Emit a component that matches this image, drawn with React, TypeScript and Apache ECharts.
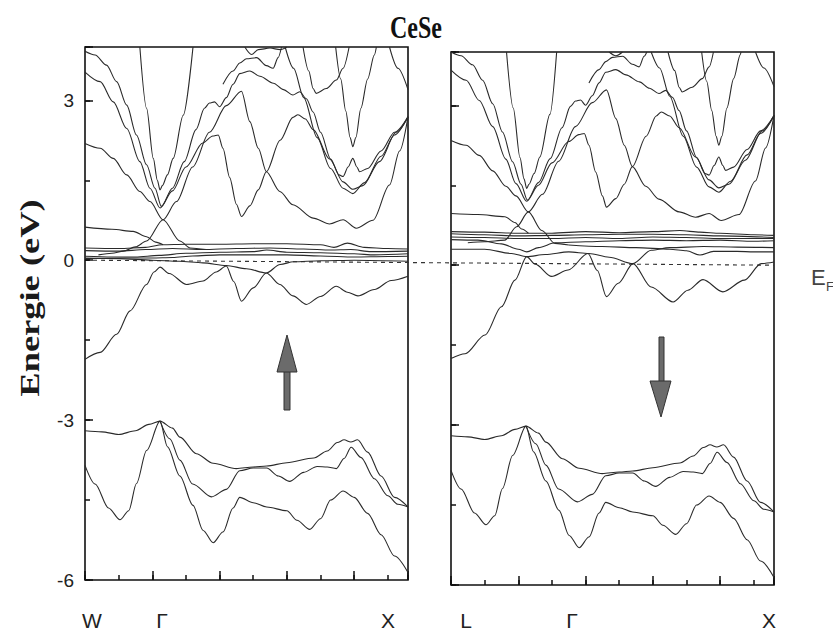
import React, { useEffect, useRef } from "react";
import * as echarts from "echarts";

// ---------- axis / label data ----------
const xMin = 0;
const xMax = 9.6;
const yMin = -6;
const yMax = 4;
const yLabelTicks = [-6, -3, 0, 3];
const leftPointLabels = ["W", "Γ", "X"];
const rightPointLabels = ["L", "Γ", "X"];
const titleText = "CeSe";
const yTitle = "Energie (eV)";

// ---------- valence bands (same look in both panels) ----------
const valA: number[][] = [[0,-3.2],[0.5,-3.22],[1.0,-3.27],[1.5,-3.2],[1.9,-3.08],[2.23,-3.02],[2.6,-3.15],[2.82,-3.32],[3.31,-3.63],[3.81,-3.81],[4.5,-3.91],[5.0,-3.88],[5.4,-3.86],[6.0,-3.8],[6.8,-3.71],[7.2,-3.58],[7.5,-3.42],[7.7,-3.37],[7.9,-3.41],[8.1,-3.37],[8.4,-3.6],[8.8,-4.05],[9.2,-4.45],[9.6,-4.63]];
const valB: number[][] = [[2.23,-3.02],[2.52,-3.35],[2.82,-3.75],[3.2,-4.2],[3.76,-4.44],[4.2,-4.3],[4.6,-3.95],[5.0,-3.9],[5.4,-3.9],[5.75,-4.05],[6.08,-4.15],[6.5,-3.98],[6.9,-3.87],[7.2,-3.88],[7.47,-3.91],[7.7,-3.72],[7.91,-3.51],[8.2,-3.7],[8.6,-4.1],[9.0,-4.42],[9.3,-4.58],[9.6,-4.63]];
const valC: number[][] = [[0,-3.85],[0.3,-4.2],[0.7,-4.65],[1.04,-4.87],[1.3,-4.7],[1.53,-4.19],[1.83,-3.57],[2.23,-3.02],[2.45,-3.5],[2.82,-4.05],[3.21,-4.6],[3.51,-5.07],[3.81,-5.3],[4.1,-5.1],[4.4,-4.65],[4.6,-4.45],[5.0,-4.55],[5.4,-4.63],[6.0,-4.7],[6.3,-4.88],[6.68,-5.05],[7.0,-4.85],[7.3,-4.5],[7.67,-4.33],[8.0,-4.45],[8.4,-4.75],[8.8,-5.15],[9.2,-5.55],[9.6,-5.86]];

// ---------- left panel (spin up) ----------
const dBandL: number[][] = [[0,-1.86],[0.45,-1.73],[0.94,-1.39],[1.34,-0.95],[1.83,-0.455],[2.05,-0.22],[2.23,-0.13],[2.5,-0.25],[3.02,-0.455],[3.51,-0.39],[3.9,-0.22],[4.2,-0.11],[4.42,-0.4],[4.65,-0.77],[5.0,-0.52],[5.39,-0.24],[5.8,-0.08],[6.2,-0.03],[7.0,-0.01],[8.0,0.0],[9.6,-0.02]];
const dBand2L: number[][] = [[0,0.04],[1.0,0.03],[2.0,0.0],[2.8,-0.02],[3.5,-0.05],[4.2,-0.1],[4.8,-0.16],[5.39,-0.24],[5.79,-0.455],[6.18,-0.67],[6.58,-0.83],[7.0,-0.68],[7.47,-0.49],[7.8,-0.6],[8.11,-0.67],[8.6,-0.55],[9.1,-0.38],[9.6,-0.3]];
const f1L: number[][] = [[0,0.23],[1.0,0.22],[1.8,0.24],[2.3,0.29],[3.0,0.3],[4.0,0.3],[5.0,0.31],[6.0,0.31],[7.0,0.29],[7.4,0.24],[7.8,0.32],[8.3,0.24],[9.0,0.22],[9.6,0.21]];
const f2L: number[][] = [[0,0.18],[1.0,0.17],[1.8,0.2],[2.6,0.22],[3.5,0.2],[4.5,0.22],[5.5,0.23],[6.5,0.21],[7.3,0.19],[7.9,0.2],[8.5,0.16],[9.6,0.17]];
const f3L: number[][] = [[0,0.075],[0.8,0.06],[1.5,0.06],[2.2,0.09],[3.0,0.13],[4.0,0.15],[5.0,0.16],[5.4,0.19],[6.0,0.15],[7.0,0.14],[8.0,0.12],[8.6,0.1],[9.6,0.12]];
const f4L: number[][] = [[0,0.03],[1.2,0.04],[2.0,0.04],[2.6,0.05],[3.2,0.08],[4.0,0.1],[5.0,0.1],[6.0,0.1],[7.0,0.08],[8.0,0.06],[9.0,0.07],[9.6,0.075]];
const w1L: number[][] = [[0,0.62],[0.8,0.58],[1.43,0.54],[1.83,0.44],[2.1,0.34],[2.32,0.29]];
const vSteepL: number[][] = [[1.63,4.0],[1.83,2.85],[2.03,1.91],[2.15,1.5],[2.23,1.32],[2.3,1.4],[2.45,1.6],[2.62,1.91],[2.92,2.72],[3.21,4.0]];
const c1L: number[][] = [[0,3.92],[0.3,3.85],[0.64,3.66],[0.94,3.35],[1.24,2.91],[1.53,2.35],[1.83,1.79],[2.08,1.35],[2.27,1.01],[2.6,1.35],[2.95,1.85],[3.3,2.45],[3.55,2.85],[3.7,2.95],[3.85,2.97],[4.0,2.88],[4.2,3.05],[4.4,3.3],[4.6,3.5],[4.9,3.55],[5.2,3.45],[5.6,3.32],[5.9,3.2],[6.18,3.1],[6.38,3.16],[6.58,3.03],[6.78,2.78],[7.0,2.4],[7.3,1.9],[7.55,1.6],[7.67,1.57],[7.82,1.75],[7.96,1.91],[8.08,1.75],[8.16,1.66],[8.4,1.72],[8.8,2.05],[9.2,2.4],[9.6,2.69]];
const c2L: number[][] = [[0,3.53],[0.45,3.35],[0.84,2.97],[1.24,2.47],[1.63,1.85],[1.93,1.35],[2.23,0.98],[2.6,1.3],[3.0,1.75],[3.5,2.2],[3.8,2.33],[3.96,2.35],[4.1,2.1],[4.3,1.55],[4.5,1.05],[4.65,0.82],[4.9,1.02],[5.15,1.32],[5.39,1.66],[5.8,2.25],[6.18,2.68],[6.33,2.73],[6.55,2.65],[6.78,2.45],[7.27,1.9],[7.67,1.47],[7.96,1.33],[8.26,1.4],[8.75,1.85],[9.25,2.4],[9.6,2.69]];
const c3L: number[][] = [[0,2.19],[0.45,2.1],[0.84,1.91],[1.24,1.6],[1.63,1.29],[1.93,1.1],[2.32,0.76],[2.82,0.36],[3.12,0.23],[3.6,0.2]];
const g3L: number[][] = [[0.4,0.1],[0.8,0.13],[1.14,0.17],[1.5,0.25],[1.83,0.36],[2.32,0.76],[2.72,1.1],[3.2,1.75],[3.7,2.4],[4.2,2.9],[4.65,3.17],[4.9,2.6],[5.15,2.1],[5.39,1.66],[5.79,1.29],[6.18,1.04],[6.78,0.79],[7.27,0.68],[7.67,0.76],[8.06,0.6],[8.56,0.75],[9.05,1.41],[9.35,2.05],[9.6,2.69]];
const t1L: number[][] = [[4.75,4.0],[4.95,3.86],[5.15,3.95],[5.5,3.98],[5.8,3.95],[6.0,4.0]];
const t2L: number[][] = [[4.1,3.3],[4.4,3.55],[4.6,3.7],[4.8,3.78],[5.1,3.8],[5.39,3.65],[5.59,3.6],[5.74,3.8],[5.84,4.0]];
const t4L: number[][] = [[6.48,4.0],[6.65,3.55],[6.78,3.22],[6.87,3.13],[7.17,3.22],[7.47,3.38],[7.67,3.6],[7.85,4.0]];
const v2L: number[][] = [[7.45,4.0],[7.6,3.4],[7.75,2.8],[7.88,2.3],[7.96,2.13],[8.05,2.3],[8.2,2.85],[8.4,3.4],[8.6,3.85],[8.66,4.0]];
const t5L: number[][] = [[9.05,4.0],[9.3,3.6],[9.6,3.2]];
const t6L: number[][] = [[5.95,4.0],[6.2,3.6],[6.5,3.05],[6.9,2.3],[7.3,1.72],[7.67,1.35],[7.96,1.25],[8.3,1.45],[8.8,1.95],[9.2,2.35],[9.6,2.69]];

// ---------- right panel (spin down) ----------
const dBandR: number[][] = [[0,-1.75],[0.42,-1.66],[1.01,-1.31],[1.5,-0.78],[1.9,-0.28],[2.25,0.16],[2.5,0.02],[2.99,-0.21],[3.48,-0.09],[4.07,0.22],[4.35,-0.1],[4.62,-0.59],[4.97,-0.34],[5.41,0.03],[5.95,0.28],[6.5,0.33],[7.5,0.35],[8.5,0.34],[9.6,0.33]];
const dBand2R: number[][] = [[0,0.3],[1.0,0.3],[1.8,0.22],[2.25,0.16],[2.8,0.2],[3.5,0.25],[4.1,0.22],[4.7,0.15],[5.41,0.03],[5.95,-0.41],[6.6,-0.69],[7.04,-0.47],[7.49,-0.27],[8.08,-0.5],[8.72,-0.28],[9.22,0.03],[9.6,0.06]];
const f1R: number[][] = [[0,0.63],[1.0,0.62],[2.0,0.6],[3.0,0.6],[4.0,0.63],[5.0,0.61],[6.0,0.63],[6.8,0.65],[7.4,0.62],[8.0,0.6],[9.0,0.57],[9.6,0.56]];
const f2R: number[][] = [[0,0.59],[1.0,0.57],[2.0,0.55],[3.0,0.56],[4.0,0.57],[5.0,0.58],[6.0,0.58],[7.0,0.57],[8.0,0.55],[9.6,0.52]];
const f3R: number[][] = [[0,0.53],[1.0,0.52],[2.0,0.5],[3.0,0.5],[4.0,0.52],[5.0,0.5],[6.0,0.53],[7.0,0.52],[8.0,0.5],[9.6,0.5]];
const f4R: number[][] = [[0,0.48],[0.8,0.47],[1.5,0.4],[2.0,0.3],[2.25,0.25],[2.6,0.33],[3.1,0.42],[4.0,0.44],[5.0,0.46],[6.0,0.47],[7.0,0.46],[8.0,0.47],[9.0,0.45],[9.6,0.46]];
const f5R: number[][] = [[3.5,0.38],[4.5,0.35],[5.5,0.33],[6.5,0.3],[7.0,0.27],[7.4,0.19],[7.8,0.26],[8.5,0.26],[9.0,0.25],[9.6,0.25]];
const w1R: number[][] = [[0,0.97],[0.8,0.95],[1.6,0.91],[1.9,0.8],[2.1,0.68],[2.3,0.6]];
const vSteepR: number[][] = [[1.65,4.0],[1.85,2.95],[2.05,2.02],[2.17,1.62],[2.25,1.44],[2.32,1.52],[2.47,1.72],[2.64,2.03],[2.94,2.83],[3.14,4.0]];
const c1R: number[][] = [[0,4.0],[0.3,3.93],[0.64,3.76],[0.94,3.47],[1.24,3.03],[1.53,2.5],[1.83,1.94],[2.08,1.52],[2.27,1.22],[2.6,1.55],[2.95,2.0],[3.3,2.58],[3.55,2.98],[3.7,3.08],[3.85,3.1],[4.0,3.0],[4.2,3.18],[4.4,3.42],[4.6,3.62],[4.9,3.67],[5.2,3.57],[5.6,3.44],[5.9,3.32],[6.18,3.22],[6.38,3.28],[6.58,3.15],[6.78,2.9],[7.0,2.52],[7.3,2.02],[7.55,1.72],[7.67,1.69],[7.82,1.87],[7.96,2.03],[8.08,1.87],[8.16,1.78],[8.4,1.84],[8.8,2.17],[9.2,2.52],[9.6,2.81]];
const c2R: number[][] = [[0,3.66],[0.45,3.47],[0.84,3.09],[1.24,2.6],[1.63,1.99],[1.93,1.53],[2.25,1.2],[2.6,1.5],[3.0,1.92],[3.5,2.32],[3.8,2.45],[3.96,2.47],[4.1,2.25],[4.3,1.75],[4.5,1.3],[4.62,1.09],[4.9,1.25],[5.15,1.52],[5.39,1.85],[5.8,2.42],[6.1,2.8],[6.25,2.875],[6.5,2.8],[6.78,2.58],[7.27,2.03],[7.67,1.6],[7.96,1.45],[8.26,1.52],[8.75,1.97],[9.25,2.52],[9.6,2.81]];
const c3R: number[][] = [[0,2.34],[0.45,2.25],[0.84,2.06],[1.24,1.77],[1.63,1.48],[1.93,1.3],[2.3,1.0],[2.7,0.65],[3.09,0.41],[3.5,0.38]];
const g3R: number[][] = [[0.5,0.42],[1.0,0.44],[1.6,0.47],[1.95,0.72],[2.3,1.0],[2.72,1.33],[3.2,1.95],[3.7,2.6],[4.2,3.05],[4.62,3.29],[4.9,2.75],[5.15,2.25],[5.39,1.85],[5.79,1.48],[6.18,1.24],[6.78,1.0],[7.27,0.9],[7.67,0.97],[8.03,0.84],[8.56,0.95],[9.05,1.58],[9.35,2.2],[9.6,2.81]];
const t1R: number[][] = [[4.7,4.0],[4.9,3.93],[5.1,4.0]];
const t2R: number[][] = [[4.1,3.42],[4.4,3.67],[4.6,3.82],[4.8,3.9],[5.1,3.92],[5.39,3.77],[5.59,3.72],[5.74,3.92],[5.82,4.0]];
const t4R: number[][] = [[6.45,4.0],[6.65,3.65],[6.78,3.34],[6.87,3.25],[7.17,3.34],[7.47,3.5],[7.67,3.72],[7.8,4.0]];
const v2R: number[][] = [[7.45,4.0],[7.6,3.45],[7.75,2.9],[7.88,2.42],[7.96,2.25],[8.05,2.42],[8.2,2.95],[8.4,3.5],[8.6,3.95],[8.62,4.0]];
const t5R: number[][] = [[9.05,4.0],[9.3,3.7],[9.6,3.35]];
const t6R: number[][] = [[5.95,4.0],[6.2,3.7],[6.5,3.17],[6.9,2.42],[7.3,1.84],[7.67,1.47],[7.96,1.37],[8.3,1.57],[8.8,2.07],[9.2,2.47],[9.6,2.81]];

const leftBands = [valA, valB, valC, dBandL, dBand2L, f1L, f2L, f3L, f4L, w1L, vSteepL, c1L, c2L, c3L, g3L, t1L, t2L, t4L, v2L, t5L, t6L];
const rightBands = [valA, valB, valC, dBandR, dBand2R, f1R, f2R, f3R, f4R, f5R, w1R, vSteepR, c1R, c2R, c3R, g3R, t1R, t2R, t4R, v2R, t5R, t6R];

const INK = "#2a2a2a";

function xAxes(grid: number, interval: number, len: number) {
  return {
    gridIndex: grid, type: "value", position: "bottom", min: xMin, max: xMax, interval,
    axisLine: { show: false, onZero: false },
    axisTick: { show: true, inside: true, length: len, lineStyle: { color: "#111", width: 1.5 } },
    axisLabel: { show: false }, splitLine: { show: false },
  };
}
function yAxes(grid: number, interval: number, len: number, labels: boolean) {
  return {
    gridIndex: grid, type: "value", position: "left", min: yMin, max: yMax, interval,
    axisLine: { show: false, onZero: false },
    axisTick: { show: true, inside: true, length: len, lineStyle: { color: "#111", width: 1.5 } },
    axisLabel: {
      show: labels, margin: 11, color: "#222", fontFamily: "Liberation Sans", fontSize: 19,
      formatter: (v: number) => (yLabelTicks.indexOf(v) >= 0 ? String(v) : ""),
    },
    splitLine: { show: false },
  };
}

function bandSeries(data: number[][], axisIdx: number) {
  return {
    type: "line", data, xAxisIndex: axisIdx, yAxisIndex: axisIdx,
    showSymbol: false, smooth: 0.3, smoothMonotone: "x", silent: true,
    lineStyle: { color: INK, width: 1.1 },
  };
}

export default function App() {
  const ref = useRef<HTMLDivElement>(null);
  useEffect(() => {
    if (!ref.current) return;
    const chart = echarts.init(ref.current, null, { renderer: "svg" });
    chart.setOption({
      animation: false,
      backgroundColor: "#ffffff",
      grid: [
        { left: 85, top: 47, width: 323, height: 533, show: true, borderColor: "#111", borderWidth: 1.6, backgroundColor: "transparent" },
        { left: 451, top: 52, width: 323, height: 533, show: true, borderColor: "#111", borderWidth: 1.6, backgroundColor: "transparent" },
      ],
      xAxis: [xAxes(0, 2, 9), xAxes(1, 2, 9), xAxes(0, 1, 5), xAxes(1, 1, 5)],
      yAxis: [yAxes(0, 3, 8, true), yAxes(1, 3, 8, false), yAxes(0, 1.5, 5, false), yAxes(1, 1.5, 5, false)],
      series: [
        ...leftBands.map((d) => bandSeries(d, 0)),
        ...rightBands.map((d) => bandSeries(d, 1)),
      ],
    });

    const p0 = chart.convertToPixel({ xAxisIndex: 0, yAxisIndex: 0 } as any, [xMin, 0]) as number[];
    const p1 = chart.convertToPixel({ xAxisIndex: 1, yAxisIndex: 1 } as any, [xMax, 0]) as number[];

    const labelStyle = { fontFamily: "Liberation Sans", fontSize: 21, fill: "#222" };
    const lblY = 620;
    const pointLabelX = [92, 162, 388, 466, 572, 769];
    const allLabels = [...leftPointLabels, ...rightPointLabels];

    chart.setOption({
      graphic: [
        {
          type: "text", x: 416, y: 27, scaleY: 1.3,
          style: { text: titleText, x: 0, y: 0, align: "center", verticalAlign: "middle", fontFamily: "Liberation Serif", fontWeight: "bold", fontSize: 24, fill: "#111" },
        },
        {
          type: "text", x: 30, y: 298, rotation: Math.PI / 2, scaleX: 1.35,
          style: { text: yTitle, x: 0, y: 0, align: "center", verticalAlign: "middle", fontFamily: "Liberation Serif", fontWeight: "bold", fontSize: 27, fill: "#1a1a1a" },
        },
        {
          type: "line", silent: true,
          shape: { x1: p0[0], y1: p0[1], x2: p1[0], y2: p1[1] },
          style: { stroke: "#333", lineWidth: 1.1, lineDash: [4, 4] },
        },
        ...allLabels.map((t, i) => ({
          type: "text", x: pointLabelX[i], y: lblY,
          style: { ...labelStyle, text: t, align: "center", verticalAlign: "middle" },
        })),
        // spin up arrow (left panel)
        {
          type: "rect", shape: { x: 284, y: 368, width: 6, height: 42 },
          style: { fill: "#6b6b6b", stroke: "#333", lineWidth: 1 },
        },
        {
          type: "polygon", shape: { points: [[287, 335], [277, 372], [297, 372]] },
          style: { fill: "#6b6b6b", stroke: "#333", lineWidth: 1 },
        },
        // spin down arrow (right panel)
        {
          type: "rect", shape: { x: 659, y: 337, width: 5, height: 46 },
          style: { fill: "#6b6b6b", stroke: "#333", lineWidth: 1 },
        },
        {
          type: "polygon", shape: { points: [[650, 381], [671, 381], [661, 417]] },
          style: { fill: "#6b6b6b", stroke: "#333", lineWidth: 1 },
        },
        {
          type: "text", x: 811, y: 266,
          style: { text: "E", fontFamily: "Liberation Sans", fontSize: 22, fill: "#444" },
        },
        {
          type: "text", x: 826, y: 280,
          style: { text: "F", fontFamily: "Liberation Sans", fontSize: 13, fill: "#444" },
        },
      ],
    });
    return () => chart.dispose();
  }, []);
  return (
    <div
      ref={ref}
      style={{ position: "fixed", left: 0, top: 0, width: 833, height: 633, background: "#fff" }}
    />
  );
}
